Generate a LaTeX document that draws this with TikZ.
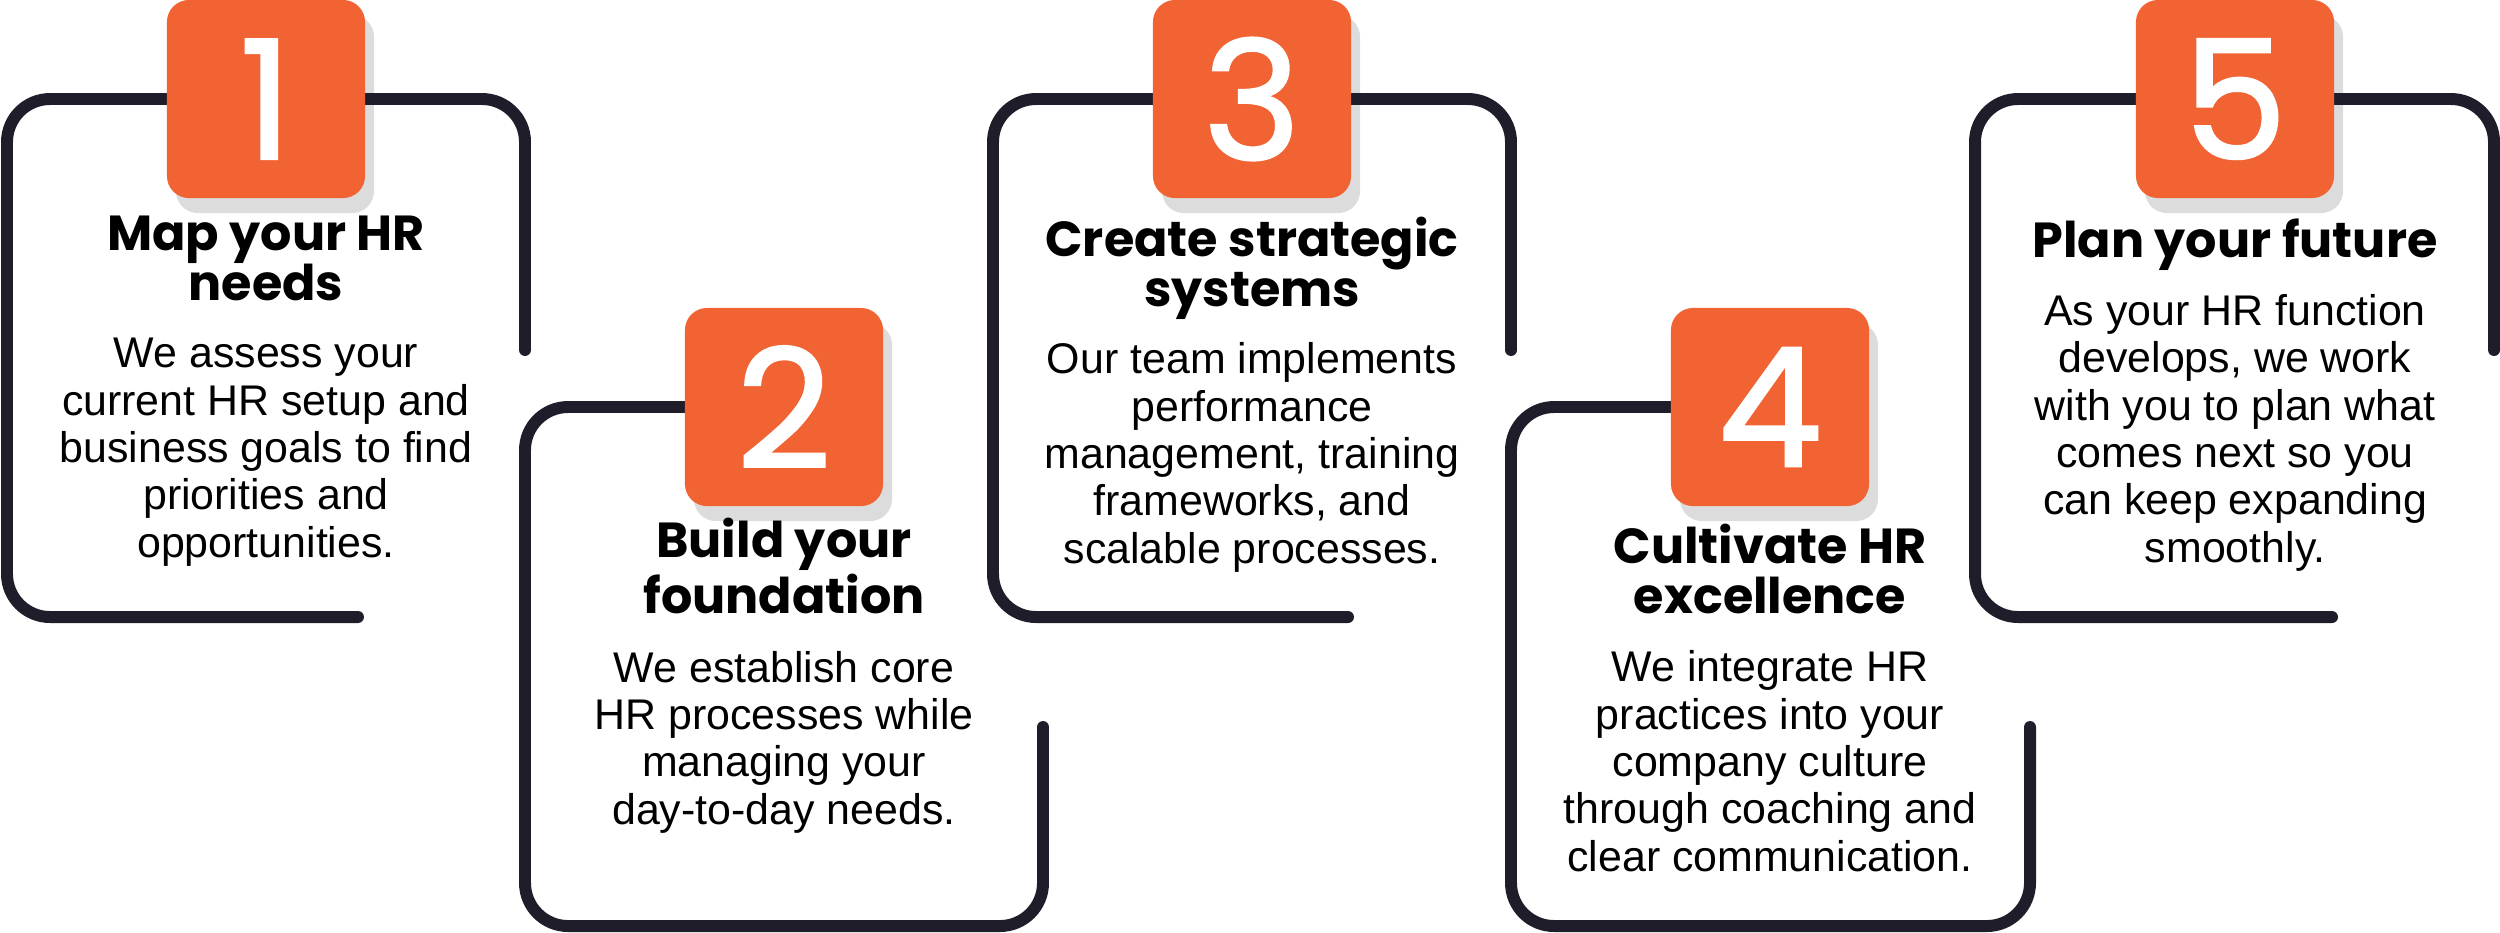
\documentclass[tikz,border=0pt]{standalone}
\usepackage{fontspec}
\setmainfont{Liberation Sans}
\newfontfamily\headfont{Poppins}
\newfontfamily\numfont{Poppins}[FakeBold=1.5]
\definecolor{frameink}{HTML}{1F1D2A}
\definecolor{hrorange}{HTML}{F26333}
\definecolor{boxshade}{HTML}{DCDCDC}
\tikzset{
  stepframe/.style={draw=frameink, line width=3.4pt, line cap=round, rounded corners=0.43cm},
  numbox/.style={fill=hrorange, rounded corners=0.22cm, minimum size=1.98cm, inner sep=0pt,
    text=white, font=\numfont\fontsize{47}{47}\selectfont},
  boxshadow/.style={fill=boxshade, rounded corners=0.22cm, minimum size=1.98cm, inner sep=0pt},
  steptitle/.style={anchor=base, align=center, font=\headfont\bfseries\fontsize{14.0}{14.1}\selectfont},
  steptext/.style={anchor=base, align=center, font=\fontsize{12.2}{13.45}\selectfont}
}
\begin{document}
\begin{tikzpicture}[x=0.01cm,y=-0.01cm]
\useasboundingbox (0,0) rectangle (2500,932);
% box centres sit on the top line of each frame
\coordinate (c1) at (266,99);
\coordinate (c2) at (784,407);
\coordinate (c3) at (1252,99);
\coordinate (c4) at (1770,407);
\coordinate (c5) at (2235,99);
\foreach \i in {1,...,5}
  \node[boxshadow] (s\i) at ([shift={(9,15)}]c\i) {};
% frames
\draw[stepframe] (358,617) -- (7,617) -- (7,99) -- (525,99) -- (525,350);
\draw[stepframe] (784,407) -- (525,407) -- (525,926) -- (1043,926) -- (1043,727);
\draw[stepframe] (1348,617) -- (993,617) -- (993,99) -- (1511,99) -- (1511,350);
\draw[stepframe] (1770,407) -- (1511,407) -- (1511,926) -- (2030,926) -- (2030,727);
\draw[stepframe] (2332,617) -- (1975,617) -- (1975,99) -- (2494,99) -- (2494,350);
% numbers
\node[numbox] (b1) at (c1) {1};
\node[numbox] (b2) at (c2) {2};
\node[numbox] (b3) at (c3) {3};
\node[numbox] (b4) at (c4) {4};
\node[numbox] (b5) at (c5) {5};
% titles and texts (anchored at the baseline of their last line)
\node[steptitle] (t1) at (266,300) {Map your HR\\needs};
\node[steptext] (d1) at (266,557) {We assess your\\current HR setup and\\business goals to find\\priorities and\\opportunities.};
\node[steptitle] (t2) at (784,613) {Build your\\foundation};
\node[steptext] (d2) at (784,824) {We establish core\\HR processes while\\managing your\\day-to-day needs.};
\node[steptitle] (t3) at (1252,306) {Create strategic\\systems};
\node[steptext] (d3) at (1252,563) {Our team implements\\performance\\management, training\\frameworks, and\\scalable processes.};
\node[steptitle] (t4) at (1770,613) {Cultivate HR\\excellence};
\node[steptext] (d4) at (1770,871) {We integrate HR\\practices into your\\company culture\\through coaching and\\clear communication.};
\node[steptitle] (t5) at (2235,257) {Plan your future};
\node[steptext] (d5) at (2235,562) {As your HR function\\develops, we work\\with you to plan what\\comes next so you\\can keep expanding\\smoothly.};
\end{tikzpicture}
\end{document}
